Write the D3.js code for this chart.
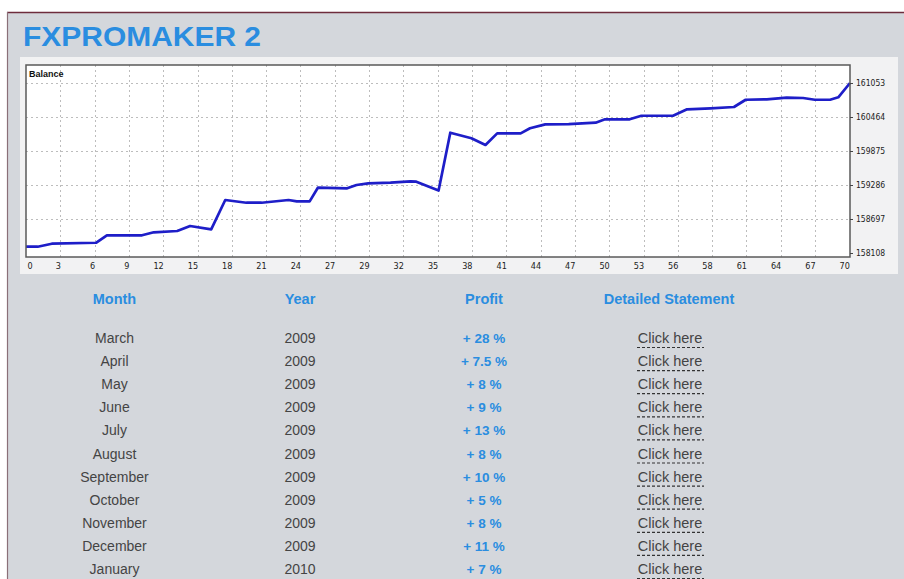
<!DOCTYPE html>
<html>
<head>
<meta charset="utf-8">
<script src="https://cdn.jsdelivr.net/npm/d3@7"></script>
<style>
  html, body { margin: 0; padding: 0; background: #ffffff; }
  svg { display: block; }
</style>
</head>
<body>
<svg id="chart" width="904" height="579"></svg>
<script>
// ---- Data ----
const title = "FXPROMAKER 2";
const seriesName = "Balance";
// balance curve: trade number and balance
const tradeNo = [0, 1, 2.2, 6, 6.9, 9.9, 10.9, 12.9, 14, 15.8, 17, 18.8, 20.1, 22.4, 23.1, 24.2, 24.9, 27.4, 28.2, 29.2,
  31.1, 32.8, 33.3, 35.2, 36.2, 38, 39.2, 40.2, 42.2, 43, 44.3, 46.3, 48.6, 49.4, 51.5, 52.5, 55.2, 56.4, 58.4, 60.4,
  61.4, 63.2, 64.9, 66.3, 67.3, 68.6, 69.3, 70.3];
const balance = [158217, 158217, 158269, 158286, 158415, 158415, 158467, 158489, 158576, 158518, 159026, 158979, 158979, 159026, 159003, 159003, 159239, 159229, 159286, 159315,
  159326, 159350, 159343, 159190, 160192, 160095, 159979, 160181, 160181, 160268, 160337, 160342, 160365, 160424, 160424, 160486, 160486, 160597, 160614, 160637,
  160763, 160770, 160798, 160793, 160763, 160763, 160805, 161053];
const xTickLabels = [0, 3, 6, 9, 12, 15, 18, 21, 24, 27, 29, 32, 35, 38, 41, 44, 47, 50, 53, 56, 58, 61, 64, 67, 70];
const yTickValues = [158108, 158697, 159286, 159875, 160464, 161053];

// table
const tableHeaders = ["Month", "Year", "Profit", "Detailed Statement"];
const months = ["March", "April", "May", "June", "July", "August", "September", "October", "November", "December", "January"];
const years = [2009, 2009, 2009, 2009, 2009, 2009, 2009, 2009, 2009, 2009, 2010];
const profits = [28, 7.5, 8, 9, 13, 8, 10, 5, 8, 11, 7];
const linkText = "Click here";

// ---- Drawing ----
const svg = d3.select("#chart");
const W = 904, H = 579;

// page background
svg.append("rect").attr("x", 7).attr("y", 12).attr("width", W - 7).attr("height", H - 12).attr("fill", "#d4d7dc");
svg.append("line").attr("x1", 7).attr("x2", W).attr("y1", 12.5).attr("y2", 12.5).attr("stroke", "#6e2c3c").attr("stroke-width", 1.5);
svg.append("line").attr("x1", 7.5).attr("x2", 7.5).attr("y1", 12).attr("y2", H).attr("stroke", "#8a6f78").attr("stroke-width", 1.2);

// title
svg.append("text").attr("x", 23).attr("y", 46)
  .attr("font-family", "Liberation Sans, Arial, sans-serif").attr("font-weight", "bold")
  .attr("font-size", 27.5).attr("fill", "#2a8de0")
  .attr("textLength", 238).attr("lengthAdjust", "spacingAndGlyphs")
  .text(title);

// chart panel
svg.append("rect").attr("x", 20).attr("y", 57).attr("width", 878).attr("height", 217).attr("fill", "#f2f2f3");

const box = { left: 26, top: 65, right: 850, bottom: 257 };
svg.append("rect").attr("x", box.left).attr("y", box.top)
  .attr("width", box.right - box.left).attr("height", box.bottom - box.top).attr("fill", "#ffffff");

const x = d3.scaleLinear().domain([0, d3.max(tradeNo)]).range([box.left, box.right]);
const y = d3.scaleLinear().domain(d3.extent(yTickValues)).range([253, 83]);

const tickStep = 2.927;
const xTickPos = xTickLabels.map((d, i) => i * tickStep);

// grid
const grid = svg.append("g").attr("stroke", "#bdbdbd").attr("stroke-width", 1).attr("stroke-dasharray", "2,3");
grid.selectAll("line.h").data(yTickValues.slice(1)).join("line")
  .attr("x1", box.left).attr("x2", box.right)
  .attr("y1", d => Math.round(y(d)) + 0.5).attr("y2", d => Math.round(y(d)) + 0.5);
grid.selectAll("line.v").data(xTickPos.slice(1, -1)).join("line")
  .attr("x1", d => Math.round(x(d)) + 0.5).attr("x2", d => Math.round(x(d)) + 0.5)
  .attr("y1", box.top).attr("y2", box.bottom);

// line
const pts = tradeNo.map((t, i) => [t, balance[i]]);
svg.append("path").datum(pts)
  .attr("fill", "none").attr("stroke", "#1e1ec8").attr("stroke-width", 2.7)
  .attr("stroke-linejoin", "round")
  .attr("d", d3.line().x(d => x(d[0])).y(d => y(d[1])));

// box border
svg.append("rect").attr("x", box.left).attr("y", box.top)
  .attr("width", box.right - box.left).attr("height", box.bottom - box.top)
  .attr("fill", "none").attr("stroke", "#5a5a5a").attr("stroke-width", 1.5);

// series label
svg.append("text").attr("x", 29).attr("y", 77)
  .attr("font-family", "Liberation Sans, Arial, sans-serif").attr("font-weight", "bold")
  .attr("font-size", 9).attr("fill", "#111").text(seriesName);

// x axis
const xAxis = svg.append("g").attr("transform", `translate(0,${box.bottom})`)
  .call(d3.axisBottom(x).tickValues(xTickPos).tickFormat((d, i) => xTickLabels[i]).tickSize(0).tickPadding(6));
xAxis.select(".domain").remove();
xAxis.selectAll("text")
  .attr("font-family", "DejaVu Sans Condensed, DejaVu Sans, sans-serif").attr("font-size", 9)
  .attr("fill", "#222")
  .attr("text-anchor", (d, i) => i === 0 ? "start" : "end")
  .attr("dx", (d, i) => i === 0 ? "1" : "0");

// y axis
const yAxis = svg.append("g").attr("transform", `translate(${box.right},0)`)
  .call(d3.axisRight(y).tickValues(yTickValues).tickFormat(d3.format("d")).tickSize(3).tickPadding(3));
yAxis.select(".domain").remove();
yAxis.selectAll(".tick line").attr("stroke", "#444");
yAxis.selectAll("text")
  .attr("font-family", "DejaVu Sans Condensed, DejaVu Sans, sans-serif").attr("font-size", 8.5)
  .attr("fill", "#222");

// ---- Table ----
const colX = [114.5, 300, 484, 669];
const headerY = 304;
const rowY0 = 343, rowStep = 23.1;
const font = "Liberation Sans, Arial, sans-serif";

svg.append("g").selectAll("text").data(tableHeaders).join("text")
  .attr("x", (d, i) => colX[i]).attr("y", headerY)
  .attr("text-anchor", "middle").attr("font-family", font).attr("font-weight", "bold")
  .attr("font-size", 14.5).attr("fill", "#2a8de0").text(d => d);

const rows = svg.append("g").selectAll("g").data(months).join("g")
  .attr("transform", (d, i) => `translate(0,${rowY0 + i * rowStep})`);

rows.append("text").attr("x", colX[0]).attr("text-anchor", "middle")
  .attr("font-family", font).attr("font-size", 14).attr("fill", "#444").text(d => d);
rows.append("text").attr("x", colX[1]).attr("text-anchor", "middle")
  .attr("font-family", font).attr("font-size", 14).attr("fill", "#444").text((d, i) => years[i]);
rows.append("text").attr("x", colX[2]).attr("text-anchor", "middle")
  .attr("font-family", font).attr("font-weight", "bold").attr("font-size", 13.5).attr("fill", "#2a8de0")
  .text((d, i) => `+ ${profits[i]} %`);
rows.append("text").attr("x", colX[3] + 1).attr("text-anchor", "middle")
  .attr("font-family", font).attr("font-size", 14.5).attr("fill", "#444").text(linkText);
rows.append("line").attr("x1", 637).attr("x2", 704).attr("y1", 4.5).attr("y2", 4.5)
  .attr("stroke", "#333").attr("stroke-width", 1.2).attr("stroke-dasharray", "3,2");
</script>
</body>
</html>
